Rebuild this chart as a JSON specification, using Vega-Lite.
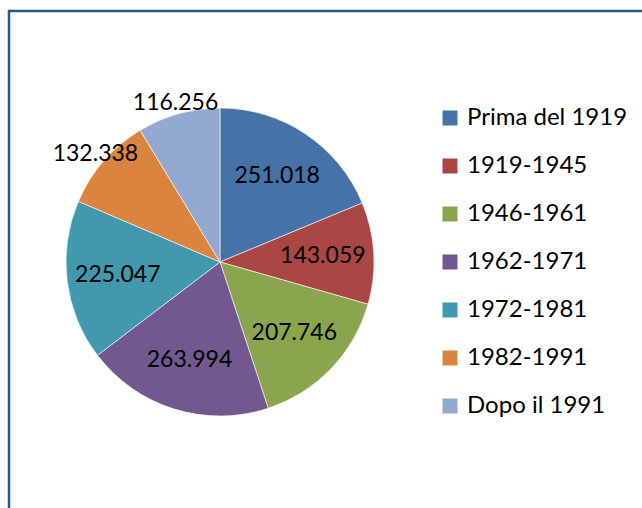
{
  "$schema": "https://vega.github.io/schema/vega-lite/v6.json",
  "width": 636,
  "height": 500,
  "autosize": "none",
  "padding": {"left": 9, "top": 11, "right": -3, "bottom": -3},
  "background": "white",
  "config": {
    "view": {"stroke": "#2A5791", "strokeWidth": 2.5},
    "font": "Lato",
    "locale": {"number": {"decimal": ",", "thousands": ".", "grouping": [3], "currency": ["€", ""]}}
  },
  "data": {
    "values": [
      {"idx": 1, "periodo": "Prima del 1919", "value": 251018},
      {"idx": 2, "periodo": "1919-1945", "value": 143059},
      {"idx": 3, "periodo": "1946-1961", "value": 207746},
      {"idx": 4, "periodo": "1962-1971", "value": 263994},
      {"idx": 5, "periodo": "1972-1981", "value": 225047},
      {"idx": 6, "periodo": "1982-1991", "value": 132338},
      {"idx": 7, "periodo": "Dopo il 1991", "value": 116256}
    ]
  },
  "encoding": {
    "theta": {"field": "value", "type": "quantitative", "stack": true},
    "order": {"field": "idx", "type": "quantitative"},
    "x": {"value": 211},
    "y": {"value": 251}
  },
  "layer": [
    {
      "mark": {"type": "arc", "outerRadius": 154, "stroke": "white", "strokeWidth": 0.6},
      "encoding": {
        "color": {
          "field": "periodo",
          "type": "nominal",
          "scale": {
            "domain": ["Prima del 1919", "1919-1945", "1946-1961", "1962-1971", "1972-1981", "1982-1991", "Dopo il 1991"],
            "range": ["#4572A7", "#AA4643", "#89A54E", "#71588F", "#4198AF", "#DB843D", "#93A9CF"]
          },
          "legend": {
            "title": null,
            "orient": "none",
            "legendX": 429,
            "legendY": 95,
            "padding": 0,
            "symbolType": "square",
            "symbolSize": 225,
            "symbolStrokeWidth": 0,
            "labelFontSize": 24,
            "labelFont": "Lato",
            "labelColor": "#000000",
            "labelOffset": 5,
            "rowPadding": 24,
            "labelLimit": 300
          }
        }
      }
    },
    {
      "mark": {"type": "text", "radius": 103, "fontSize": 23, "font": "Lato", "color": "#000000"},
      "encoding": {
        "text": {"condition": {"test": "datum.value >= 140000", "field": "value", "type": "quantitative", "format": ",d"}, "value": ""}
      }
    },
    {
      "mark": {"type": "text", "radius": 165, "fontSize": 23, "font": "Lato", "color": "#000000"},
      "encoding": {
        "text": {"condition": {"test": "datum.value < 140000", "field": "value", "type": "quantitative", "format": ",d"}, "value": ""}
      }
    }
  ]
}
